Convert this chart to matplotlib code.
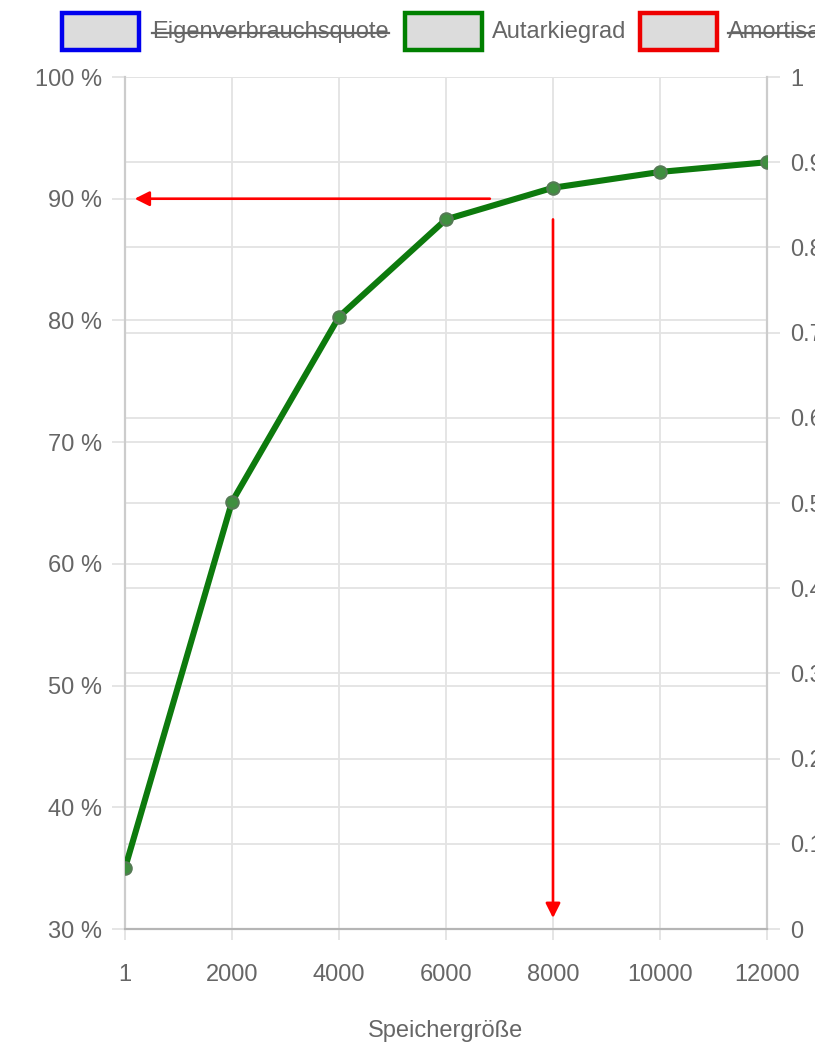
import matplotlib
matplotlib.use("Agg")
import matplotlib.pyplot as plt
from matplotlib.patches import Rectangle
from matplotlib.lines import Line2D

# ---- data ----
sizes = ["1", "2000", "4000", "6000", "8000", "10000", "12000"]
autarkie = [35.0, 65.1, 80.3, 88.3, 90.9, 92.2, 93.0]
legend_labels = ["Eigenverbrauchsquote", "Autarkiegrad", "Amortisation"]
legend_colors = ["#0000ee", "#008000", "#ee0000"]
legend_hidden = [True, False, True]
left_ticks = [30, 40, 50, 60, 70, 80, 90, 100]
right_ticks = [0, 0.1, 0.2, 0.3, 0.4, 0.5, 0.6, 0.7, 0.8, 0.9, 1]
# annotation arrows (category index / percent)
h_arrow = dict(x_start=3.41, x_end=0.09, y=90)
v_arrow = dict(x=4.0, y_start=88.3, y_end=30.9)

plt.rcParams['font.family'] = ['Liberation Sans', 'DejaVu Sans']
TXT = "#666666"
GRID = "#e3e3e3"
FS = 17

W, H = 815, 1050
fig = plt.figure(figsize=(W / 100, H / 100), dpi=100)
L, R, T, B = 125, 767, 77, 929
ax = fig.add_axes([L / W, 1 - B / H, (R - L) / W, (B - T) / H])
ax2 = ax.twinx()

x = list(range(len(sizes)))
ax.plot(x, autarkie, color="#0d7a0d", lw=4.4, solid_joinstyle="round",
        marker="o", ms=9, mfc="#3f8f3f", mec="#557a55", mew=1.5, zorder=5)

ax.set_xlim(0, len(sizes) - 1)
ax.set_ylim(30, 100)
ax2.set_ylim(0, 1)

ax.set_xticks(x)
ax.set_xticklabels(sizes)
ax.set_yticks(left_ticks)
ax.set_yticklabels([f"{v} %" for v in left_ticks])
ax2.set_yticks(right_ticks)
ax2.set_yticklabels([f"{v:g}" for v in right_ticks])

ax.grid(True, axis="both", color=GRID, lw=1.3)
ax2.grid(True, axis="y", color=GRID, lw=1.3)

ax.tick_params(axis="y", length=9.4, width=1.3, color=GRID, pad=7, labelsize=FS, labelcolor=TXT)
ax.tick_params(axis="x", length=8, width=1.3, color=GRID, pad=17, labelsize=FS, labelcolor=TXT)
ax2.tick_params(axis="y", length=9.4, width=1.3, color=GRID, pad=7, labelsize=FS, labelcolor=TXT)

for a in (ax, ax2):
    a.spines["top"].set_visible(False)
    a.spines["left"].set_color("#cccccc")
    a.spines["right"].set_color("#cccccc")
    a.spines["bottom"].set_color("#b5b5b5")
    for s in ("left", "right", "bottom"):
        a.spines[s].set_linewidth(1.5)

ax.set_zorder(ax2.get_zorder() + 1)
ax.patch.set_visible(False)

ax.set_xlabel("Speichergröße", fontsize=FS, color=TXT, labelpad=25)

# arrows
ap = dict(arrowstyle="-|>", color="#ff0000", lw=1.9, mutation_scale=22, shrinkA=0, shrinkB=0)
ax.annotate("", xy=(h_arrow["x_end"], h_arrow["y"]), xytext=(h_arrow["x_start"], h_arrow["y"]),
            arrowprops=ap, zorder=10, annotation_clip=False)
ax.annotate("", xy=(v_arrow["x"], v_arrow["y_end"]), xytext=(v_arrow["x"], v_arrow["y_start"]),
            arrowprops=ap, zorder=10, annotation_clip=False)

# legend (manual, pixel positions)
box_x = [62, 405, 640]
text_x = [152, 492, 728]
box_w, box_y0, box_y1 = 77, 13, 50
for bx, tx, lab, col, hid in zip(box_x, text_x, legend_labels, legend_colors, legend_hidden):
    fig.patches.append(Rectangle((bx / W, 1 - box_y1 / H), box_w / W, (box_y1 - box_y0) / H,
                                 transform=fig.transFigure, facecolor="#dcdcdc",
                                 edgecolor=col, lw=3.2))
    t = fig.text(tx / W, 1 - 32 / H, lab, fontsize=FS, color=TXT,
                 ha="left", va="center")
    if hid:
        fig.canvas.draw()
        bb = t.get_window_extent()
        yc = 1 - 33 / H
        fig.lines.append(Line2D([bb.x0 / W, bb.x1 / W], [yc, yc], transform=fig.transFigure,
                                color=TXT, lw=1.6))

fig.savefig("out.png", dpi=100)
